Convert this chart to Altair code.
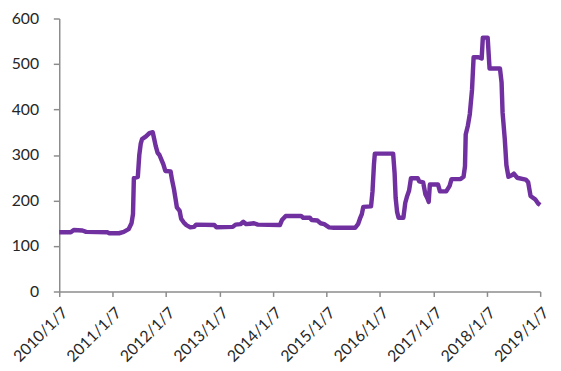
import altair as alt
import pandas as pd

# days since 2010-01-07 and values
days = [0, 79, 99, 158, 184, 329, 342, 408, 441, 474, 494, 504, 510, 537, 547, 557, 566, 593,
        616, 639, 649, 659, 672, 685, 698, 711, 725, 761, 771, 784, 794, 804, 823, 833, 850, 869,
        896, 922, 935, 1060, 1074, 1186, 1205, 1238, 1258, 1278, 1304, 1331, 1357, 1508, 1522,
        1548, 1653, 1667, 1713, 1726, 1765, 1785, 1811, 1844, 1877, 2022, 2042, 2055, 2068, 2078,
        2131, 2141, 2151, 2157, 2282, 2292, 2299, 2309, 2319, 2352, 2365, 2378, 2391, 2404, 2450,
        2460, 2487, 2503, 2516, 2525, 2533, 2589, 2602, 2645, 2668, 2681, 2743, 2763, 2773, 2778,
        2793, 2806, 2821, 2832, 2865, 2887, 2895, 2928, 2941, 3012, 3023, 3030, 3045, 3056, 3070,
        3096, 3107, 3129, 3188, 3205, 3221, 3254, 3274, 3287]
values = [130, 130, 135, 134, 131, 130, 128, 128, 131, 137, 150, 170, 249, 252, 300, 325, 335, 341,
          348, 350, 335, 320, 305, 300, 290, 280, 265, 264, 245, 225, 205, 185, 177, 160, 152, 146,
          141, 142, 147, 146, 141, 142, 147, 148, 153, 148, 149, 150, 147, 146, 157,
          166, 166, 162, 162, 157, 156, 150, 148, 141, 140, 140, 148, 160, 170, 186,
          187, 220, 280, 303, 303, 260, 206, 175, 162, 162, 195, 210, 222, 249, 249,
          242, 240, 213, 205, 197, 235, 235, 220, 220, 232, 247, 247, 252, 275, 345,
          365, 390, 443, 515, 515, 512, 558, 558, 490, 490, 460, 393, 335, 278, 252,
          256, 259, 250, 246, 240, 210, 202, 193, 190]

tick_years = list(range(2010, 2020))
y_ticks = [0, 100, 200, 300, 400, 500, 600]

start = pd.Timestamp("2010-01-07")
df = pd.DataFrame({
    "date": [start + pd.Timedelta(days=d) for d in days],
    "value": values,
})

FONT = "Lato"
AXIS_COLOR = "#8c8c8c"
LABEL_COLOR = "#262626"

chart = alt.Chart(df).mark_line(color="#7030A0", strokeWidth=4.5, strokeJoin="round").encode(
    x=alt.X("date:T",
            scale=alt.Scale(domain=[alt.DateTime(year=2010, month=1, date=7),
                                    alt.DateTime(year=2019, month=1, date=7)], nice=False),
            axis=alt.Axis(values=[alt.DateTime(year=y, month=1, date=7) for y in tick_years],
                          format="%Y/%-m/%-d", labelAngle=-45, title=None, grid=False,
                          domainColor=AXIS_COLOR, domainWidth=1.5, tickColor=AXIS_COLOR,
                          tickWidth=1.5, tickSize=5, labelFont=FONT, labelFontSize=16,
                          labelColor=LABEL_COLOR, labelPadding=8, labelOverlap=False)),
    y=alt.Y("value:Q",
            scale=alt.Scale(domain=[0, 600], nice=False),
            axis=alt.Axis(values=y_ticks, title=None, grid=False,
                          domainColor=AXIS_COLOR, domainWidth=1.5, tickColor=AXIS_COLOR,
                          tickWidth=1.5, tickSize=6, labelFont=FONT, labelFontSize=16,
                          labelColor=LABEL_COLOR, labelPadding=15)),
).properties(
    width=488, height=277,
    autosize=alt.AutoSizeParams(type="none"),
    padding={"left": 52, "top": 8, "right": 13, "bottom": 76},
).configure_view(stroke=None)

chart.save("out.html", embed_options={"renderer": "svg", "actions": False})
